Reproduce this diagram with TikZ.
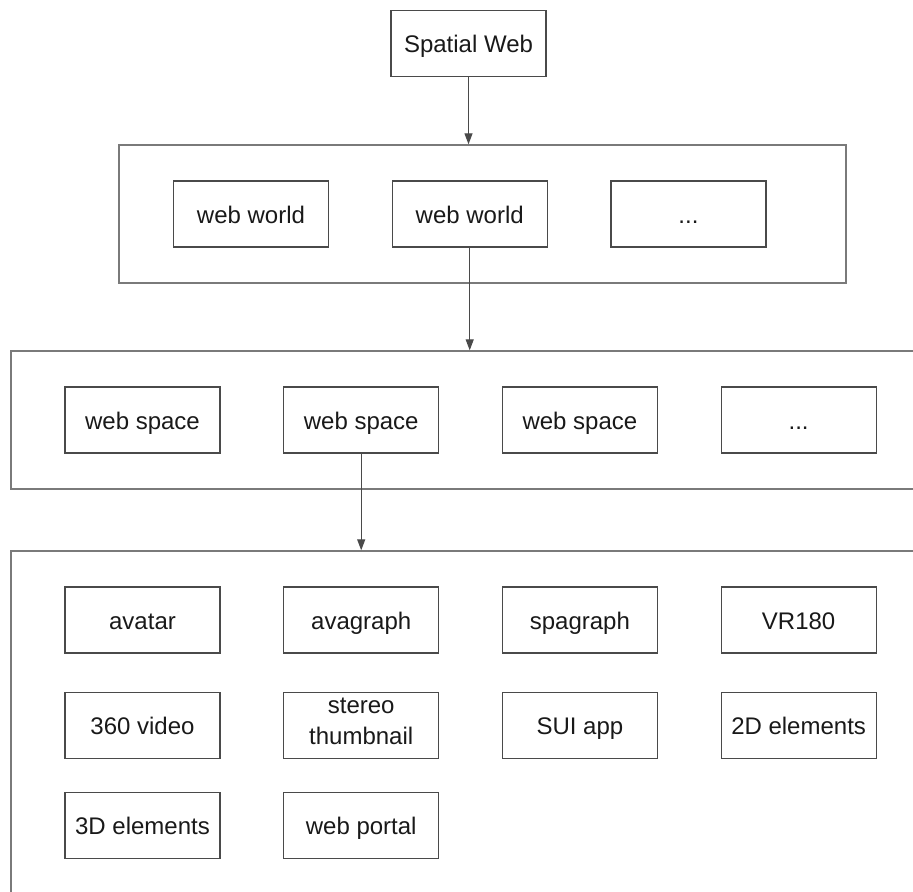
\documentclass[tikz,border=0pt]{standalone}
\usepackage{fontspec}
\setmainfont{Liberation Sans}
\usepackage{xcolor}
\usetikzlibrary{arrows.meta,positioning}

\definecolor{framegray}{HTML}{7A7A7A}
\definecolor{boxgray}{HTML}{4A4A4A}

\begin{document}
\begin{tikzpicture}[
    x=0.5pt, y=-0.5pt,
    node distance=18.75pt and 31.25pt,
    box/.style={draw=boxgray, line width=0.6pt, align=center, inner sep=0pt,
      minimum width=77.5pt, minimum height=33pt,
      font=\fontsize{12}{15.5}\selectfont, text=black!90,
      execute at begin node={\rule[-3.5pt]{0pt}{16pt}},
      execute at end node={\rule[-3.5pt]{0pt}{3.5pt}}},
    frame/.style={draw=framegray, line width=0.7pt, inner sep=0pt},
    arrow/.style={-{Triangle[length=5.5pt,width=4pt]}, draw=boxgray, line width=0.6pt}
  ]
    \clip (0,0) rectangle (913,891);
    \useasboundingbox (0,0) rectangle (913,891);

    \node[box] (spatial) at (468.5,43.5) {Spatial Web};

    % worlds
    \node[frame, minimum width=363.5pt, minimum height=69pt] (worlds) at (482.5,214) {};
    \node[box] (worldA) at (251,214) {web world};
    \node[box, right=of worldA] (worldB) {web world};
    \node[box, right=of worldB] (worldC) {...};

    % spaces
    \node[frame, minimum width=474.5pt, minimum height=69pt] (spaces) at (485.5,420) {};
    \node[box] (spaceA) at (142.5,420) {web space};
    \node[box, right=of spaceA] (spaceB) {web space};
    \node[box, right=of spaceB] (spaceC) {web space};
    \node[box, right=of spaceC] (spaceD) {...};

    % elements
    \node[frame, minimum width=474.5pt, minimum height=199.5pt] (elements) at (485.5,750.5) {};
    \node[box] (avatar) at (142.5,620) {avatar};
    \node[box, right=of avatar] (avagraph) {avagraph};
    \node[box, right=of avagraph] (spagraph) {spagraph};
    \node[box, right=of spagraph] (vr) {VR180};
    \node[box, below=19pt of avatar] (video) {360 video};
    \node[box, right=of video] (thumb) {stereo\\thumbnail};
    \node[box, right=of thumb] (sui) {SUI app};
    \node[box, right=of sui] (twod) {2D elements};
    \node[box, below=16.5pt of video] (threed) {3D elements};
    \node[box, right=of threed] (portal) {web portal};

    \draw[arrow] (spatial) -- (spatial.south |- worlds.north);
    \draw[arrow] (worldB) -- (worldB.south |- spaces.north);
    \draw[arrow] (spaceB) -- (spaceB.south |- elements.north);
  \end{tikzpicture}
\end{document}
